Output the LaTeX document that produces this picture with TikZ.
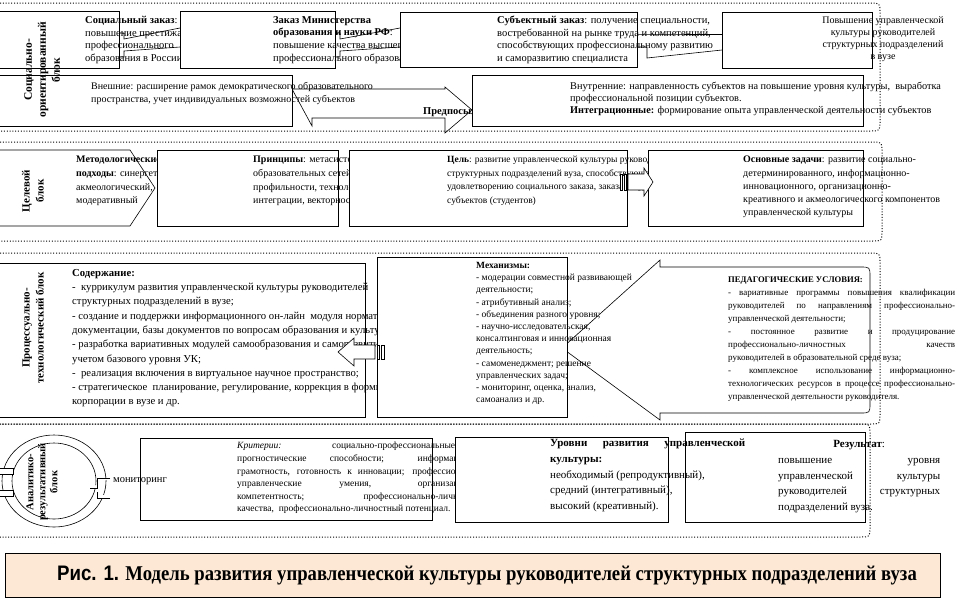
\documentclass[tikz,border=0pt]{standalone}
\usepackage{fontspec}
\setmainfont{Liberation Serif}
\newfontfamily\capsans{Liberation Sans}
\usetikzlibrary{fit}
\newcommand{\jline}[2]{\makebox[#1][s]{#2}}
\newcommand{\fsz}[2]{\fontsize{#1}{#2}\selectfont}
\definecolor{capfill}{RGB}{252,232,212}
\begin{document}
\begin{tikzpicture}[x=1pt,y=-1pt,
  frame/.style={line width=1pt, dash pattern=on 1pt off 1.8pt},
  bx/.style={draw, line width=0.7pt, fill=white, inner sep=0pt},
  ln/.style={line width=0.6pt},
  blk/.style={draw, line width=0.6pt, fill=white},
  txt/.style={inner sep=0pt, anchor=north west, align=left},
  vlab/.style={rotate=90, inner sep=0pt, align=center, font=\bfseries\fsz{11}{14}},
]
\useasboundingbox[fill=white] (0,0) rectangle (971,600);

% ---------- frames
\draw[frame] (0,3) -- (870,3) .. controls (880,3) .. (880,13) -- (880,121) .. controls (880,131) .. (870,131) -- (0,131);
\draw[frame] (0,142) -- (872,142) .. controls (882,142) .. (882,152) -- (882,231) .. controls (882,241) .. (872,241) -- (0,241);
\draw[frame] (0,253) -- (870,253) .. controls (880,253) .. (880,263) -- (880,414) .. controls (880,424) .. (870,424) -- (0,424);
\draw[frame] (0,424) -- (860,424) .. controls (870,424) .. (870,434) -- (870,527) .. controls (870,537) .. (860,537) -- (0,537);

% ---------- row 1
\node[bx, fit={(-5,11) (119,68)}] (A) {};
\node[txt, font=\fsz{10.5}{12.7}] (At) at (85,16) {\textbf{Социальный заказ}:\\повышение престижа\\профессионального\\образования в России};
\draw[ln] (119,33) -- (124,33) -- (124,39) -- (180,28);
\draw[ln] (119,57) -- (124,57) -- (124,51) -- (180,47);
\node[bx, fit={(180,11) (335,68)}] (B) {};
\node[txt, font=\fsz{10.5}{12.7}] (Bt) at (273,16) {\textbf{Заказ Министерства}\\\textbf{образования и науки РФ}:\\повышение качества высшего\\профессионального образования};
\draw[ln] (335,33) -- (340,33) -- (340,39) -- (400,28);
\draw[ln] (335,57) -- (340,57) -- (340,51) -- (400,47);
\node[bx, fit={(400,12) (637,67)}] (C) {};
\node[txt, font=\fsz{10.5}{12.5}] (Ct) at (497,16) {\textbf{Субъектный заказ}: получение специальности,\\востребованной на рынке труда и компетенций,\\способствующих профессиональному развитию\\и саморазвитию специалиста};
\draw[ln] (637,34) -- (647,34) -- (722,34);
\draw[ln] (637,47) -- (647,47) -- (647,58) -- (722,50);
\node[bx, fit={(722,12) (872,68)}] (D) {};
\node[inner sep=0pt, anchor=north, align=center, font=\fsz{10}{12.3}] (Dt) at (883,16) {Повышение управленческой\\культуры руководителей\\структурных подразделений\\в вузе};

\draw[ln] (292,89) -- (445,89) -- (445,87) -- (472,110) -- (445,133) -- (445,118) -- (312,118) -- (312,126) -- cycle;
\node[inner sep=0pt, anchor=base west, font=\bfseries\fsz{10.5}{12}] (pre) at (423,114) {Предпосылки};
\node[bx, fit={(-5,75) (292,126)}] (E) {};
\node[txt, font=\fsz{10}{13}] (Et) at (91,82) {Внешние: расширение рамок демократического образовательного\\пространства, учет индивидуальных возможностей субъектов};
\node[bx, fit={(472,75) (863,126)}] (F) {};
\node[txt, font=\fsz{10.3}{12}] (Ft) at (570,82) {Внутренние: направленность субъектов на повышение уровня культуры,\ \ выработка\\профессиональной позиции субъектов.\\\textbf{Интеграционные:} формирование опыта управленческой деятельности субъектов};
\node[vlab, font=\bfseries\fsz{11.5}{14}] (L1) at (42,70) {Социально-\\ориентированный\\блок};

% ---------- row 2
\draw[blk] (-5,150) -- (130,150) -- (155,188) -- (130,226) -- (-5,226) -- cycle;
\node[txt, font=\fsz{10}{13.7}] (Gt) at (76,156) {\textbf{Методологические}\\\textbf{подходы}: синергетический,\\акмеологический,\\модеративный};
\node[bx, fit={(157,150) (338,226)}] (H) {};
\node[txt, font=\fsz{10}{13.7}] (Ht) at (253,156) {\textbf{Принципы}: метасистемности,\\образовательных сетей,\\профильности, технологичности,\\интеграции, векторности};
\node[bx, fit={(349,150) (627,226)}] (I) {};
\node[txt, font=\fsz{9.5}{13.5}] (It) at (447,156) {\textbf{Цель}: развитие управленческой культуры руководителей\\структурных подразделений вуза, способствующей\\удовлетворению социального заказа, заказа государства,\\субъектов (студентов)};
\node[bx, fit={(648,150) (863,226)}] (J) {};
\node[txt, font=\fsz{10}{13.2}] (Jt) at (743,156) {\textbf{Основные задачи}: развитие социально-\\детерминированного, информационно-\\инновационного, организационно-\\креативного и акмеологического компонентов\\управленческой культуры};
\draw[blk] (620,174) rectangle (622,190);
\draw[blk] (624,174) rectangle (626,190);
\draw[blk] (628,174) -- (644,174) -- (644,168) -- (653,182) -- (644,196) -- (644,190) -- (628,190) -- cycle;
\node[vlab] (L2) at (33,191) {Целевой\\блок};

% ---------- row 3
\node[bx, fit={(-5,263) (365,417)}] (K) {};
\node[txt, font=\fsz{10.7}{14.3}] (Kt) at (72,269) {\textbf{Содержание:}\\-\ \ куррикулум развития управленческой культуры руководителей\\структурных подразделений в вузе;\\- создание и поддержки информационного он-лайн\ \ модуля нормативной\\документации, базы документов по вопросам образования и культуры;\\- разработка вариативных модулей самообразования и саморазвития с\\учетом базового уровня УК;\\-\ \ реализация включения в виртуальное научное пространство;\\- стратегическое\ \ планирование, регулирование, коррекция в формировании\\корпорации в вузе и др.};
\draw[blk] (660,267) -- (860,267) .. controls (870,267) .. (870,277) -- (870,403) .. controls (870,413) .. (860,413) -- (660,413) -- (660,420) -- (562,348) -- (660,260) -- cycle;
\node[bx, fit={(377,257) (567,417)}] (L) {};
\node[txt, font=\fsz{9.5}{12.2}] (Lt) at (476,262) {\textbf{Механизмы:}\\- модерации совместной развивающей\\деятельности;\\- атрибутивный анализ;\\- объединения разного уровня;\\- научно-исследовательская,\\консалтинговая и инновационная\\деятельность;\\- самоменеджмент; решение\\управленческих задач;\\- мониторинг, оценка, анализ,\\самоанализ и др.};
\node[txt, font=\fsz{9}{12.9}] (Pt) at (728,277) {{\fsz{8.6}{12.9}\textbf{ПЕДАГОГИЧЕСКИЕ УСЛОВИЯ:}}\\
\jline{227pt}{- вариативные программы повышения квалификации}\\
\jline{227pt}{руководителей по направлениям профессионально-}\\
управленческой деятельности;\\
\jline{227pt}{- постоянное развитие и продуцирование}\\
\jline{227pt}{профессионально-личностных качеств}\\
руководителей в образовательной среде вуза;\\
\jline{227pt}{- комплексное использование информационно-}\\
\jline{227pt}{технологических ресурсов в процессе профессионально-}\\
управленческой деятельности руководителя.};
\draw[blk] (377,345) rectangle (379,359);
\draw[blk] (381,345) rectangle (384,359);
\draw[blk] (375,345) -- (354,345) -- (354,338) -- (338,352) -- (354,366) -- (354,359) -- (375,359) -- cycle;
\node[vlab] (L3) at (33,328) {Процессуально-\\технологический блок};

% ---------- row 4
\draw[ln] (54,481) ellipse [x radius=52, y radius=46];
\draw[ln] (54,481) ellipse [x radius=42, y radius=38];
\draw[blk] (0,468) -- (13,468) -- (13,474) -- (0,474);
\draw[blk] (0,490) -- (13,490) -- (13,496) -- (0,496);
\draw[blk] (110,478) -- (97,478) -- (97,488) -- (90,488);
\draw[blk] (110,498) -- (97,498) -- (97,492);
\node[vlab, font=\bfseries\fsz{10.5}{12}] (L4) at (42,482) {Аналитико-\\результативный\\блок};
\node[bx, fit={(140,438) (432,520)}] (M) {};
\node[txt, font=\fsz{9.5}{12.6}] (Mt) at (237,442) {\jline{218pt}{\textit{Критерии:} социально-профессиональные}\\
\jline{250pt}{прогностические способности; информационная}\\
\jline{250pt}{грамотность, готовность к инновации; профессионально-}\\
\jline{250pt}{управленческие умения, организационная}\\
\jline{250pt}{компетентность; профессионально-личностные}\\
качества,\ \ профессионально-личностный потенциал.};
\node[inner sep=0pt, anchor=west, font=\fsz{10.5}{12}] (mon) at (113,481) {мониторинг};
\node[bx, fit={(455,437) (668,522)}] (N) {};
\node[bx, fit={(685,432) (865,522)}] (O) {};
\node[txt, font=\fsz{11}{15.7}] (Nt) at (550,439) {\jline{195pt}{\textbf{Уровни развития управленческой}}\\\textbf{культуры:}\\необходимый (репродуктивный),\\средний (интегративный),\\высокий (креативный).};
\node[txt, font=\fsz{11}{15.8}] (Ot) at (778,440) {\makebox[162pt]{\textbf{Результат}:}\\
\jline{162pt}{повышение уровня}\\
\jline{162pt}{управленческой культуры}\\
\jline{162pt}{руководителей структурных}\\
подразделений вуза.};

% ---------- caption
\node[draw, line width=0.8pt, fill=capfill, inner sep=0pt, fit={(5,553) (940,597)}] (cap) {};
\begin{scope}[shift={(487,576)}, xscale=0.89]
\node[transform shape, inner sep=0pt, font=\bfseries\fsz{21}{24}] (capt) at (0,0) {{\capsans Рис. 1.} Модель развития управленческой культуры руководителей структурных подразделений вуза};
\end{scope}
\end{tikzpicture}
\end{document}
